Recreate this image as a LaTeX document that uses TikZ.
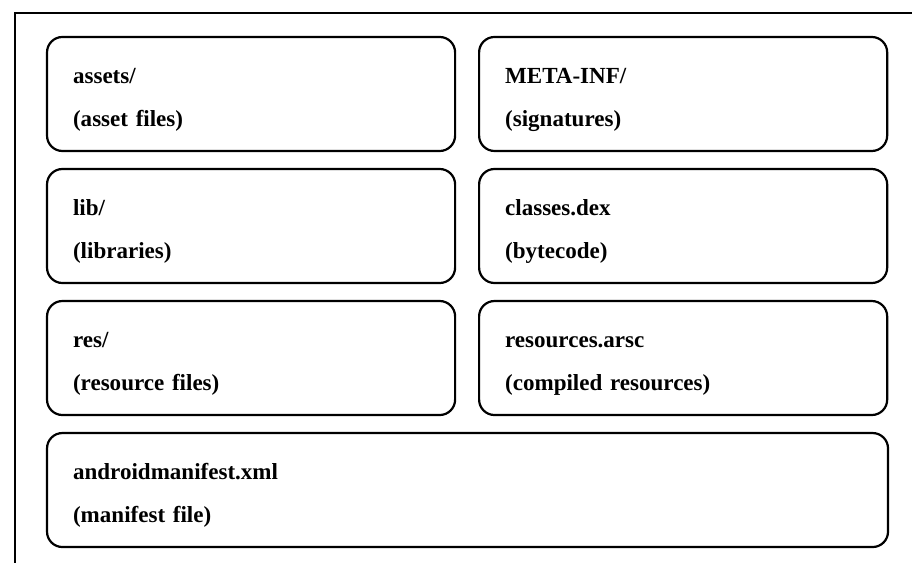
\documentclass[tikz,border=0pt]{standalone}
\usepackage{fontspec}
\setmainfont{Liberation Serif}
\usetikzlibrary{positioning}

\begin{document}
\begin{tikzpicture}
%
\useasboundingbox (0,0) rectangle (16.0cm,9.877cm);
%
\definecolor{cframe}{rgb}{0.0,0.0,0.0}
\definecolor{cbox}{rgb}{0.0,0.0,0.0}
\definecolor{ctext}{rgb}{0.0,0.0,0.0}
%
\tikzset{apkpart/.style={draw=cbox,text=ctext,line width=1.1pt,outer sep=0pt,rounded corners=0.27cm,minimum height=2.0cm,minimum width=7.158cm,text width=177.7pt,inner xsep=13pt,align=left,text height=13.3pt,font=\fontsize{11.5}{21.5}\selectfont\bfseries}}
%
\draw[line width=0.9pt,color=cframe] (16.0cm,9.649cm) -- (0.263cm,9.649cm) -- (0.263cm,0cm);
%
\node[apkpart,anchor=north west] (assets) at (0.825cm,9.228cm) {assets/\\(asset files)};
\node[apkpart,right=0.421cm of assets] (metainf) {META-INF/\\(signatures)};
\node[apkpart,below=0.316cm of assets] (lib) {lib/\\(libraries)};
\node[apkpart,right=0.421cm of lib] (classes) {classes.dex\\(bytecode)};
\node[apkpart,below=0.316cm of lib] (res) {res/\\(resource files)};
\node[apkpart,right=0.421cm of res] (arsc) {resources.arsc\\(compiled resources)};
\node[apkpart,minimum width=14.754cm,text width=393.8pt,below=0.316cm of res.south west,anchor=north west] (manifest) {androidmanifest.xml\\(manifest file)};
%
\end{tikzpicture}
\end{document}
